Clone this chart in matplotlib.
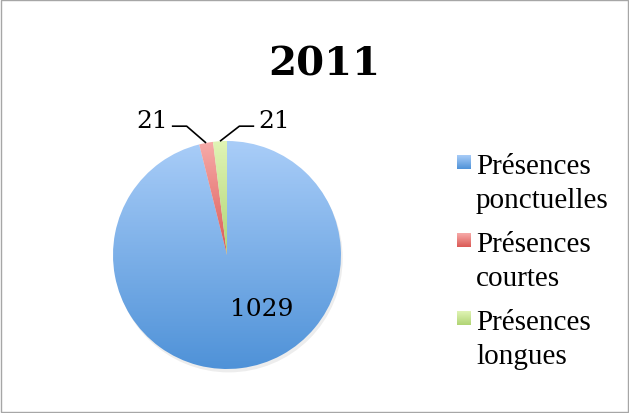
import matplotlib
matplotlib.use('Agg')
import matplotlib.pyplot as plt
import numpy as np
from matplotlib.patches import Rectangle, Circle
from matplotlib.colors import LinearSegmentedColormap

# ---- data ----
title = "2011"
categories = ["Présences\nponctuelles", "Présences\ncourtes", "Présences\nlongues"]
values = [1029, 21, 21]
top_colors = ["#a9cdf8", "#f7aba9", "#e0f4b5"]
bottom_colors = ["#4f92d8", "#db5955", "#b0d474"]

W, H = 629, 414
SERIF = ['Liberation Serif', 'DejaVu Serif']
NUMF = ['DejaVu Serif']
fig = plt.figure(figsize=(W / 100, H / 100), dpi=100)
fig.patch.set_facecolor('white')

cx, cy, R = 227, 256, 114
span = 1.3
ax = fig.add_axes([(cx - span * R) / W, (H - cy - span * R) / H,
                   2 * span * R / W, 2 * span * R / H])

# faint shadow
ax.add_patch(Circle((0.015, -0.03), 1.0, facecolor='#000000', alpha=0.07,
                    edgecolor='none', zorder=0))

wedges, _ = ax.pie(values, startangle=90, counterclock=False, radius=1.0,
                   wedgeprops=dict(linewidth=0, edgecolor='none'))

grad = np.linspace(0, 1, 256).reshape(-1, 1)
for w, c0, c1 in zip(wedges, top_colors, bottom_colors):
    w.set_facecolor('none')
    bb = w.get_path().get_extents()
    cmap = LinearSegmentedColormap.from_list('g', [c1, c0])
    im = ax.imshow(grad, cmap=cmap, origin='lower',
                   extent=[bb.x0, bb.x1, bb.y0, bb.y1], aspect='auto',
                   interpolation='bilinear', zorder=1)
    im.set_clip_path(w)

# data labels
for i, w in enumerate(wedges):
    mid = np.deg2rad((w.theta1 + w.theta2) / 2)
    px, py = np.cos(mid), np.sin(mid)
    if i == 0:
        ax.text(0.30, -0.47, str(values[i]), ha='center', va='center',
                fontsize=18, family=NUMF, zorder=5)
        continue
    side = -1 if i == 1 else 1
    ex, ey = px + side * 0.17, 1.13
    hx = ex + side * 0.13
    ax.plot([px, ex, hx], [py, ey, ey], color='black', lw=1.2,
            solid_capstyle='butt', clip_on=False, zorder=5)
    ax.text(hx + side * 0.035, ey - 0.01, str(values[i]),
            ha='right' if side < 0 else 'left', va='baseline',
            fontsize=18, family=NUMF, zorder=5)

ax.set_xlim(-span, span)
ax.set_ylim(-span, span)
ax.set_aspect('equal')
ax.axis('off')

# overlay in pixel coordinates: title, legend, border
ov = fig.add_axes([0, 0, 1, 1], zorder=10)
ov.set_xlim(0, W)
ov.set_ylim(H, 0)
ov.axis('off')
ov.patch.set_alpha(0)

ov.text(324, 64, title, ha='center', va='center', fontsize=29,
        fontweight='bold', family=NUMF)

sq = 14
tops = [156, 234, 312]
for lab, t, c0, c1 in zip(categories, tops, top_colors, bottom_colors):
    r = Rectangle((457, t), sq, sq, facecolor='none', edgecolor='none')
    ov.add_patch(r)
    cmap = LinearSegmentedColormap.from_list('g', [c0, c1])
    im = ov.imshow(grad, cmap=cmap, origin='upper',
                   extent=[457, 457 + sq, t + sq, t], aspect='auto',
                   interpolation='bilinear')
    im.set_clip_path(r)
    ov.text(476, t - 2, lab, ha='left', va='top', fontsize=21,
            family=SERIF, linespacing=1.38)

ov.set_xlim(0, W)
ov.set_ylim(H, 0)
ov.add_patch(Rectangle((0.5, 0.5), W - 1.5, H - 1.5, facecolor='none',
                       edgecolor='#a6a6a6', lw=1.0))

fig.savefig('out.png', dpi=100, facecolor='white')
